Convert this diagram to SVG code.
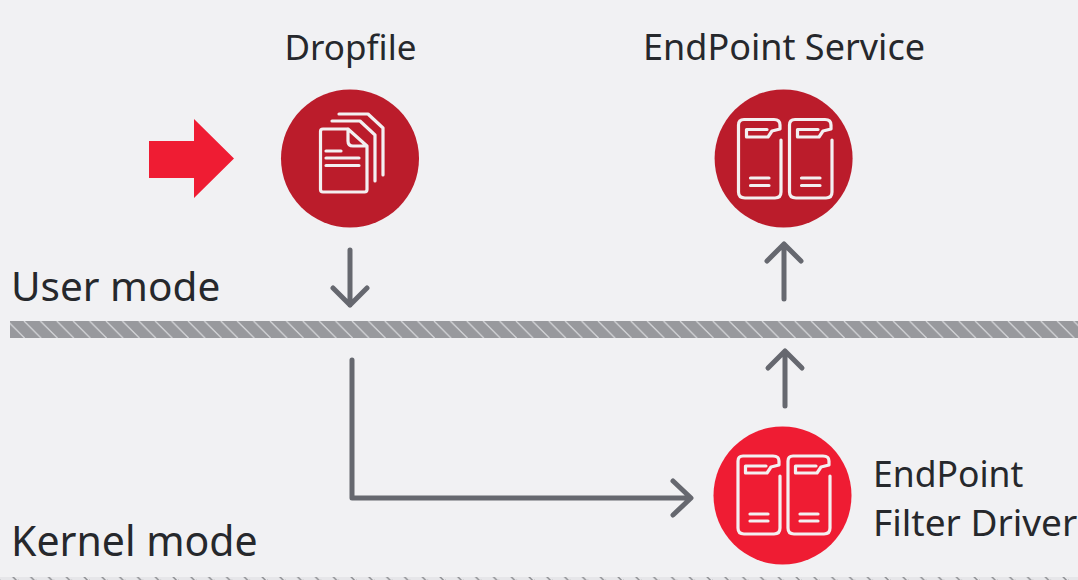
<svg xmlns="http://www.w3.org/2000/svg" width="1078" height="580" viewBox="0 0 1078 580">
<defs>
<style>
text{font-family:"Noto Sans","Open Sans",sans-serif;fill:#26282c}
.lbl{font-size:40.500px}.nm{font-size:36px}
.ic{fill:none;stroke:#f3f0f1;stroke-width:3.200;stroke-linecap:round;stroke-linejoin:round}
.cn{fill:none;stroke:#66686f;stroke-width:5;stroke-linecap:round;stroke-linejoin:round}
</style>
<pattern id="h" width="16.4" height="17" patternUnits="userSpaceOnUse" x="7.6" y="321">
<rect width="16.4" height="17" fill="#98999d"/>
<path d="M0 0L17 17M-16.4 0L.6 17M16.4 0L33.4 17" stroke="#d3d4d7" stroke-width="1.3"/>
</pattern>
<pattern id="b" width="17.800" height="17" patternUnits="userSpaceOnUse" x="0" y="564">
<path d="M0 0L17 17M-16.4 0L.6 17" stroke="#8e8f93" stroke-width="1.500"/>
</pattern>
</defs>
<rect width="1078" height="580" fill="#f1f1f3"/>
<rect x="10" y="321" width="1068" height="17" fill="url(#h)"/>
<rect x="0" y="577" width="1078" height="3" fill="#e6e6e9"/>
<rect x="0" y="577" width="1078" height="3" fill="url(#b)"/>
<g id="labels">
<text class="lbl" x="11" y="301">User mode</text>
<text class="lbl" x="11" y="556" style="font-size:41px">Kernel mode</text>
</g>
<g id="connectors">
<path class="cn" d="M350 250V305M333 288L350 305L367 288"/>
<path class="cn" d="M784 299V244M767 261L784 244L801 261"/>
<path class="cn" d="M785 406V351M768 368L785 351L802 368"/>
<path class="cn" d="M352 360V498H690M673 481L691 498L673 515"/>
</g>
<g id="input-arrow"><path d="M149 141H194V119L234 158.500L194 198V178H149Z" fill="#ef1c33"/></g>
<g id="dropfile">
<text class="nm" x="350.500" y="60" text-anchor="middle" style="font-size:35px">Dropfile</text>
<circle cx="350" cy="158.500" r="69" fill="#bb1c2b"/>
<g class="ic">
<path d="M348 129H323Q320.500 129 320.500 131.500V189.500Q320.500 192 323 192H364.500Q367 192 367 189.500V146L348 129V141Q348 146 353 146H367"/>
<path d="M326 151H341M326 158H359M326 165.500H359"/>
<path d="M332 121H360L375 135V181"/>
<path d="M339 114H368L383 128V175"/>
</g>
</g>
<g id="endpoint-service">
<text class="nm" x="784" y="60" text-anchor="middle">EndPoint Service</text>
<circle cx="783.600" cy="158.500" r="69" fill="#bb1c2b"/>
<path class="ic" d="M747 119.500H774Q780 119.500 780 125V129L772 131L768 137H746.500V129.500H767M738.500 125Q738.500 119.500 744 119.500H747M738.500 125V192Q738.500 198 745 198H775Q781 198 781 192V140M750.500 178H769M750.500 185.500H769"/>
<path class="ic" d="M798 119.500H825Q831 119.500 831 125V129L823 131L819 137H797.500V129.500H818M789.500 125Q789.500 119.500 795 119.500H798M789.500 125V192Q789.500 198 796 198H826Q832 198 832 192V140M801.500 178H820M801.500 185.500H820"/>
</g>
<g id="endpoint-filter-driver">
<circle cx="782.500" cy="495.500" r="69" fill="#ef1c33"/>
<path class="ic" d="M746 456H773Q779 456 779 461V465L771 467L767 473H745.500V466H766M738 461Q738 456 743 456H746M738 461V528Q738 534 744 534H774Q780 534 780 528V476M750 514H768M750 521H768"/>
<path class="ic" d="M796 456H823Q829 456 829 461V465L821 467L817 473H795.500V466H816M788 461Q788 456 793 456H796M788 461V528Q788 534 794 534H824Q830 534 830 528V476M800 514H818M800 521H818"/>
<text class="nm" x="873" y="487" style="font-size:35.500px">EndPoint</text>
<text class="nm" x="873" y="536" style="font-size:37px">Filter Driver</text>
</g>
</svg>
